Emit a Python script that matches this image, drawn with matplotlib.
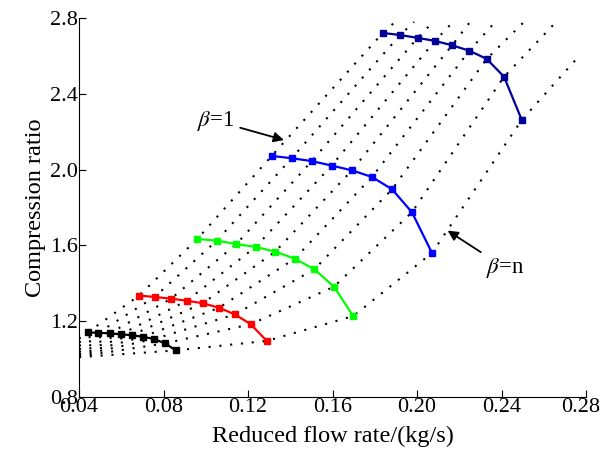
import matplotlib.pyplot as plt
from matplotlib.transforms import ScaledTranslation

# --------------------------------------------------
# Data (read from the reference map)
# --------------------------------------------------

# speed lines, 9 points each (flow kg/s, compression ratio)
flow_1 = [0.0441, 0.0491, 0.0545, 0.0599, 0.0649, 0.0703, 0.0756, 0.0807, 0.0859]
pr_1 = [1.141, 1.139, 1.136, 1.131, 1.126, 1.118, 1.106, 1.083, 1.046]

flow_2 = [0.0684, 0.0758, 0.0836, 0.0910, 0.0986, 0.1063, 0.1138, 0.1213, 0.1289]
pr_2 = [1.335, 1.328, 1.319, 1.308, 1.295, 1.271, 1.236, 1.184, 1.096]

flow_3 = [0.0960, 0.1052, 0.1145, 0.1236, 0.1329, 0.1421, 0.1514, 0.1607, 0.1698]
pr_3 = [1.634, 1.625, 1.607, 1.592, 1.567, 1.530, 1.474, 1.382, 1.227]

flow_4 = [0.1312, 0.1407, 0.1502, 0.1596, 0.1692, 0.1787, 0.1882, 0.1976, 0.2071]
pr_4 = [2.072, 2.060, 2.045, 2.021, 1.996, 1.961, 1.896, 1.775, 1.560]

flow_5 = [0.1838, 0.1920, 0.2003, 0.2085, 0.2166, 0.2248, 0.2330, 0.2412, 0.2496]
pr_5 = [2.721, 2.710, 2.695, 2.679, 2.656, 2.627, 2.584, 2.490, 2.262]

speed_flows = [flow_1, flow_2, flow_3, flow_4, flow_5]
speed_prs = [pr_1, pr_2, pr_3, pr_4, pr_5]
speed_colors = ["black", "#ff0000", "#00ff00", "#0000ff", "#000099"]

# beta lines: extended ends (low-flow start, high-flow end)
beta_start_flow = [0.04, 0.04, 0.04, 0.04, 0.04, 0.04, 0.04, 0.04, 0.04]
beta_start_pr = [1.108, 1.088, 1.070, 1.052, 1.038, 1.027, 1.019, 1.013, 1.010]
beta_end_flow = [0.1896, 0.1986, 0.2076, 0.2166, 0.2251, 0.2374, 0.2511, 0.2649, 0.2772]
beta_end_pr = [2.779, 2.779, 2.779, 2.774, 2.779, 2.784, 2.784, 2.768, 2.605]

x_ticks = [0.04, 0.08, 0.12, 0.16, 0.20, 0.24, 0.28]
y_ticks = [0.8, 1.2, 1.6, 2.0, 2.4, 2.8]

# --------------------------------------------------
# Plot
# --------------------------------------------------

plt.rcParams["font.family"] = ["Liberation Serif", "DejaVu Serif"]
plt.rcParams["mathtext.fontset"] = "stix"

fig = plt.figure(figsize=(6.04, 4.61), dpi=100)
ax = fig.add_axes([0.1308, 0.1388, 0.8394, 0.8222])

# dotted beta lines through matching points of each speed line
for i in range(len(flow_1)):
    xs = [beta_start_flow[i]] + [f[i] for f in speed_flows] + [beta_end_flow[i]]
    ys = [beta_start_pr[i]] + [p[i] for p in speed_prs] + [beta_end_pr[i]]
    ax.plot(xs, ys, color="black", linestyle=(0, (1, 4.2)), linewidth=1.5,
            zorder=1)

for flows, prs, color in zip(speed_flows, speed_prs, speed_colors):
    ax.plot(flows, prs, color=color, linewidth=1.6, marker="s",
            markersize=5, zorder=2)

ax.set_xlim(0.04, 0.28)
ax.set_ylim(0.8, 2.8)
ax.set_xticks(x_ticks)
ax.set_yticks(y_ticks)
ax.set_xticklabels([f"{t:.2f}" for t in x_ticks])
ax.set_yticklabels([f"{t:.1f}" for t in y_ticks])

ax.spines["top"].set_visible(False)
ax.spines["right"].set_visible(False)
ax.tick_params(direction="in", length=5, labelsize=16, pad=1)

# keep the last x label inside the figure, as in the reference
last = ax.get_xticklabels()[-1]
last.set_transform(last.get_transform()
                   + ScaledTranslation(-4 / 72, 0, fig.dpi_scale_trans))

ax.set_xlabel("Reduced flow rate/(kg/s)", fontsize=17.5, labelpad=6)
ax.set_ylabel("Compression ratio", fontsize=17.5, labelpad=3)

ax.annotate(r"$\beta$=1", xy=(0.1370, 2.156), xytext=(0.1049, 2.2565),
            fontsize=16.5, ha="center", va="center",
            arrowprops=dict(arrowstyle="-|>", color="black", lw=1.3,
                            shrinkA=2, shrinkB=0, mutation_scale=15))
ax.annotate(r"$\beta$=n", xy=(0.2145, 1.678), xytext=(0.2417, 1.481),
            fontsize=16.5, ha="center", va="center",
            arrowprops=dict(arrowstyle="-|>", color="black", lw=1.3,
                            shrinkA=2, shrinkB=0, mutation_scale=15))

plt.savefig("out.png", dpi=100)
plt.close()
